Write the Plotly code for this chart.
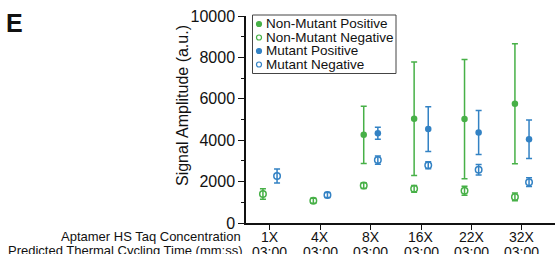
import plotly.graph_objects as go

# ---------------- data ----------------
concentrations = ["1X", "4X", "8X", "16X", "22X", "32X"]
cycle_times = ["03:00", "03:00", "03:00", "03:00", "03:00", "03:00"]
y_ticks = [0, 2000, 4000, 6000, 8000, 10000]
y_ticktext = ["0", "2000", "4000", "6000", "8000", "10000"]

nm_pos_mean = [None, None, 4260, 5040, 5020, 5760]
nm_pos_err = [None, None, 1380, 2740, 2880, 2900]
nm_neg_mean = [1400, 1080, 1810, 1650, 1560, 1260]
nm_neg_err = [250, 120, 140, 165, 220, 185]

m_pos_mean = [None, None, 4340, 4540, 4370, 4050]
m_pos_err = [None, None, 290, 1080, 1065, 930]
m_neg_mean = [2270, 1350, 3040, 2790, 2570, 1970]
m_neg_err = [340, 120, 200, 170, 255, 210]

series_names = ["Non-Mutant Positive", "Non-Mutant Negative", "Mutant Positive", "Mutant Negative"]

GREEN = "#47b047"
BLUE = "#3382c4"
FONT = "Liberation Sans, Arial, sans-serif"

# ---------------- geometry helpers ----------------
W, H = 555, 254
L, T, R, B = 246, 16, 0, 31
PW, PH = W - L - R, H - T - B


def px(xp):
    return (xp - L) / PW


def py(yp):
    return (H - B - yp) / PH


pos = list(range(len(concentrations)))
off = 0.14
x_nm = [p - off for p in pos]
x_m = [p + off for p in pos]

fig = go.Figure()


def add(xs, ys, errs, color, filled, name):
    fig.add_trace(go.Scatter(
        x=xs, y=ys, mode="markers", name=name, showlegend=False,
        marker=dict(
            symbol="circle" if filled else "circle-open",
            size=6.5,
            color=color,
            line=dict(color=color, width=1.5 if not filled else 0),
        ),
        error_y=dict(type="data", array=errs, visible=True, color=color,
                     thickness=1.5, width=3),
        cliponaxis=False,
    ))


add(x_nm, nm_pos_mean, nm_pos_err, GREEN, True, series_names[0])
add(x_nm, nm_neg_mean, nm_neg_err, GREEN, False, series_names[1])
add(x_m, m_pos_mean, m_pos_err, BLUE, True, series_names[2])
add(x_m, m_neg_mean, m_neg_err, BLUE, False, series_names[3])

annotations = []
shapes = []

# two rows of x category labels
for p, c, t in zip(pos, concentrations, cycle_times):
    annotations.append(dict(x=p, xref="x", y=py(237), yref="paper", text=c,
                            showarrow=False, xanchor="center", yanchor="middle",
                            font=dict(size=14, color="#111", family=FONT)))
    annotations.append(dict(x=p, xref="x", y=py(251.5), yref="paper", text=t,
                            showarrow=False, xanchor="center", yanchor="middle",
                            font=dict(size=14, color="#111", family=FONT)))

# row labels
annotations.append(dict(x=px(243), xref="paper", y=py(236.5), yref="paper",
                        text="Aptamer HS Taq Concentration", showarrow=False,
                        xanchor="right", yanchor="middle",
                        font=dict(size=13, color="#111", family=FONT)))
annotations.append(dict(x=px(245), xref="paper", y=py(250.5), yref="paper",
                        text="Predicted Thermal Cycling Time (mm:ss)", showarrow=False,
                        xanchor="right", yanchor="middle",
                        font=dict(size=13, color="#111", family=FONT)))

# y-axis title
annotations.append(dict(x=px(182), xref="paper", y=py(106), yref="paper",
                        text="Signal Amplitude (a.u.)", showarrow=False, textangle=-90,
                        xanchor="center", yanchor="middle",
                        font=dict(size=16, color="#111", family=FONT)))

# panel letter
annotations.append(dict(x=px(4), xref="paper", y=py(23), yref="paper",
                        text="<b>E</b>", showarrow=False,
                        xanchor="left", yanchor="middle",
                        font=dict(size=25, color="#111", family=FONT)))

# custom legend
leg_rows = [24, 37.5, 51, 64.5]
leg_styles = [(GREEN, True), (GREEN, False), (BLUE, True), (BLUE, False)]
shapes.append(dict(type="rect", xref="paper", yref="paper",
                   x0=px(252.5), x1=px(396), y0=py(73.5), y1=py(15),
                   line=dict(color="#444", width=1), fillcolor="white"))
for yr, (c, filled), name in zip(leg_rows, leg_styles, series_names):
    r = 2.5
    shapes.append(dict(type="circle", xref="paper", yref="paper",
                       x0=px(259 - r), x1=px(259 + r), y0=py(yr + r), y1=py(yr - r),
                       line=dict(color=c, width=1.2),
                       fillcolor=c if filled else "white"))
    annotations.append(dict(x=px(264), xref="paper", y=py(yr), yref="paper",
                            text=name, showarrow=False, xanchor="left", yanchor="middle",
                            font=dict(size=13.5, color="#111", family=FONT)))

fig.update_layout(
    template="none",
    width=W, height=H,
    margin=dict(l=L, r=R, t=T, b=B, pad=0, autoexpand=False),
    paper_bgcolor="white", plot_bgcolor="white",
    font=dict(family=FONT, color="#111"),
    annotations=annotations, shapes=shapes,
    showlegend=False,
)

fig.update_xaxes(
    automargin=False,
    range=[-0.476, 5.655], tickmode="array", tickvals=pos, showticklabels=False,
    showgrid=False, zeroline=False, showline=True, linecolor="#111", linewidth=1.5,
    ticks="outside", ticklen=5, tickwidth=1.2, tickcolor="#111",
)
fig.update_yaxes(
    automargin=False,
    range=[0, 10000], tickmode="array", tickvals=y_ticks, ticktext=y_ticktext,
    showgrid=False, zeroline=False, showline=True, linecolor="#111", linewidth=1.5,
    ticks="outside", ticklen=6, tickwidth=1.2, tickcolor="#111",
    tickfont=dict(size=16, color="#111", family=FONT),
    minor=dict(tickvals=[1000, 3000, 5000, 7000, 9000], ticks="outside", ticklen=3,
               tickwidth=1, tickcolor="#111"),
)

fig.write_html(
    "out.html",
    config={"displayModeBar": False},
    post_script="document.body.style.margin='0';document.body.style.overflow='hidden';",
)
